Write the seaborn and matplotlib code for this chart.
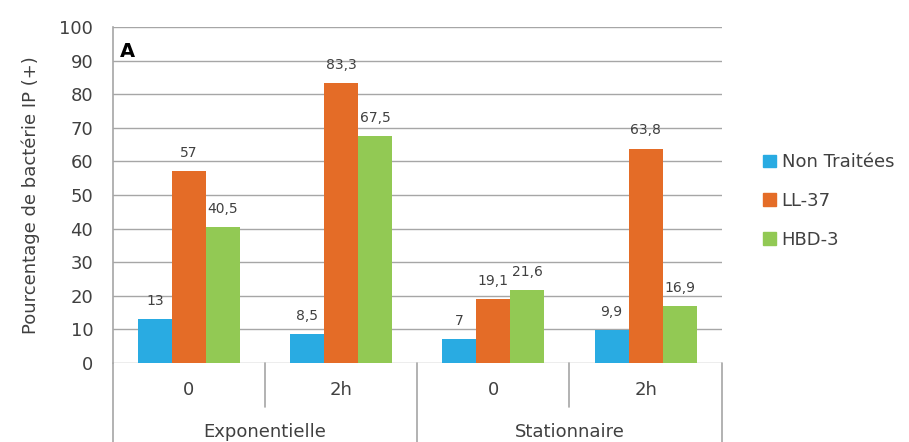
import matplotlib
matplotlib.use("Agg")
import matplotlib.pyplot as plt
import seaborn as sns
import pandas as pd

phases = ["Exponentielle", "Exponentielle", "Stationnaire", "Stationnaire"]
times = ["0", "2h", "0", "2h"]
series = ["Non Traitées", "LL-37", "HBD-3"]
non_traitees = [13, 8.5, 7, 9.9]
ll37 = [57, 83.3, 19.1, 63.8]
hbd3 = [40.5, 67.5, 21.6, 16.9]
colors = ["#29ABE2", "#E46C27", "#92C954"]

rows = []
cats = [f"{p}|{t}|{i}" for i, (p, t) in enumerate(zip(phases, times))]
for s, vals in zip(series, [non_traitees, ll37, hbd3]):
    for c, v in zip(cats, vals):
        rows.append({"cat": c, "serie": s, "val": v})
df = pd.DataFrame(rows)

sns.set_style("white")
plt.rcParams["font.family"] = ["DejaVu Sans"]
txt = "#404040"
grid = "#A6A6A6"

fig = plt.figure(figsize=(9.09, 4.42), dpi=100)
ax = fig.add_axes([0.124, 0.179, 0.67, 0.760])
sns.barplot(data=df, x="cat", y="val", hue="serie", order=cats, hue_order=series,
            palette=colors, width=0.67, gap=0, saturation=1, ax=ax, legend=True,
            edgecolor="none", linewidth=0)

ax.set_ylim(0, 100)
ax.set_xlim(-0.5, 3.5)
ax.set_yticks(range(0, 101, 10))
ax.tick_params(axis="y", labelsize=13, colors=txt, length=0, pad=14)
ax.yaxis.grid(True, color=grid, linewidth=1.0)
ax.set_axisbelow(True)
for s in ["top", "right", "bottom"]:
    ax.spines[s].set_visible(False)
ax.spines["left"].set_color(grid)
ax.spines["left"].set_linewidth(1.2)
ax.set_xticks([])
ax.set_xlabel("")
ax.set_ylabel("Pourcentage de bactérie IP (+)", fontsize=13, color=txt, labelpad=14)

# labels on bars
for cont in ax.containers:
    labels = [f"{v:g}".replace(".", ",") for v in cont.datavalues]
    ax.bar_label(cont, labels=labels, padding=8, fontsize=10, color=txt)

ax.text(0.012, 0.955, "A", transform=ax.transAxes, fontsize=14, fontweight="bold",
        color="black", va="top", ha="left")

# multi-level category axis
trans = ax.get_xaxis_transform()
for xb, y0 in [(-0.5, -0.3), (0.5, -0.13), (1.5, -0.3), (2.5, -0.13), (3.5, -0.3)]:
    ax.plot([xb, xb], [0, y0], transform=trans, color=grid, lw=1.2, clip_on=False)
for i, t in enumerate(times):
    ax.text(i, -0.08, t, transform=trans, ha="center", va="center", fontsize=13, color=txt)
ax.text(0.5, -0.205, "Exponentielle", transform=trans, ha="center", va="center", fontsize=13, color=txt)
ax.text(2.5, -0.205, "Stationnaire", transform=trans, ha="center", va="center", fontsize=13, color=txt)

ax.legend_.remove()
handles = [plt.Rectangle((0, 0), 1, 1, color=c) for c in colors]
fig.legend(handles, series, loc="center left", bbox_to_anchor=(0.822, 0.545), frameon=False,
           fontsize=13, labelcolor=txt, handlelength=0.7, handleheight=0.7,
           handletextpad=0.3, labelspacing=1.15)

fig.savefig("out.png", dpi=100)
